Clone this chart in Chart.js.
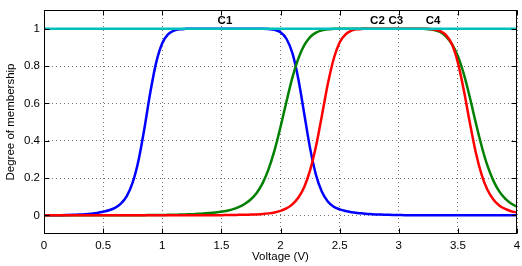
<!DOCTYPE html>
<html>

<head>
    <title>Membership functions</title>
    <script src="https://cdn.jsdelivr.net/npm/chart.js"></script>
</head>

<body style="margin:0;background:#fff;">
    <div style="width:522px;height:266px;">
        <canvas id="mfChart" width="522" height="266"></canvas>
    </div>

    <script>
        // sample points on the voltage axis (V)
        var voltage = [
            0, 0.05, 0.1, 0.15, 0.2, 0.25, 0.3, 0.35, 0.4, 0.45,
            0.5, 0.55, 0.6, 0.65, 0.7, 0.75, 0.8, 0.85, 0.9, 0.95,
            1, 1.05, 1.1, 1.15, 1.2, 1.25, 1.3, 1.35, 1.4, 1.45,
            1.5, 1.55, 1.6, 1.65, 1.7, 1.75, 1.8, 1.85, 1.9, 1.95,
            2, 2.05, 2.1, 2.15, 2.2, 2.25, 2.3, 2.35, 2.4, 2.45,
            2.5, 2.55, 2.6, 2.65, 2.7, 2.75, 2.8, 2.85, 2.9, 2.95,
            3, 3.05, 3.1, 3.15, 3.2, 3.25, 3.3, 3.35, 3.4, 3.45,
            3.5, 3.55, 3.6, 3.65, 3.7, 3.75, 3.8, 3.85, 3.9, 3.95,
            4
        ];

        // degree of membership
        var c1 = [
            0, 0, 0.001, 0.001, 0.002, 0.003, 0.004, 0.006, 0.009, 0.013,
            0.019, 0.027, 0.04, 0.063, 0.103, 0.176, 0.297, 0.469, 0.662, 0.822,
            0.922, 0.971, 0.99, 0.997, 0.999, 1, 1, 1, 1, 1,
            1, 1, 1, 1, 1, 1, 1, 1, 0.998, 0.994,
            0.981, 0.946, 0.87, 0.733, 0.547, 0.36, 0.217, 0.126, 0.074, 0.046,
            0.032, 0.023, 0.017, 0.013, 0.01, 0.007, 0.005, 0.004, 0.003, 0.002,
            0.002, 0.001, 0.001, 0.001, 0.001, 0.001, 0.001, 0, 0, 0,
            0, 0, 0, 0, 0, 0, 0, 0, 0, 0,
            0
        ];
        var c2 = [
            0, 0, 0, 0, 0, 0, 0, 0, 0, 0,
            0, 0.001, 0.001, 0.001, 0.001, 0.001, 0.001, 0.001, 0.0015, 0.0015,
            0.002, 0.0025, 0.003, 0.004, 0.005, 0.006, 0.008, 0.01, 0.012, 0.015,
            0.019, 0.025, 0.033, 0.045, 0.062, 0.086, 0.121, 0.174, 0.249, 0.349,
            0.473, 0.608, 0.736, 0.838, 0.91, 0.955, 0.979, 0.991, 0.997, 0.999,
            1, 1, 1, 1, 1, 1, 1, 1, 1, 1,
            1, 1, 1, 1, 0.999, 0.997, 0.993, 0.982, 0.958, 0.917,
            0.853, 0.758, 0.635, 0.5, 0.373, 0.266, 0.186, 0.128, 0.089, 0.063,
            0.046
        ];
        var c3 = [
            0, 0, 0, 0, 0, 0, 0, 0, 0, 0,
            0, 0, 0, 0, 0, 0, 0, 0, 0, 0,
            0, 0, 0, 0, 0, 0, 0.001, 0.001, 0.001, 0.001,
            0.001, 0.0015, 0.002, 0.0025, 0.003, 0.004, 0.005, 0.007, 0.0105, 0.0157,
            0.024, 0.037, 0.059, 0.094, 0.151, 0.241, 0.37, 0.534, 0.703, 0.839,
            0.926, 0.97, 0.99, 0.997, 0.999, 1, 1, 1, 1, 1,
            1, 1, 1, 1, 1, 0.999, 0.996, 0.987, 0.965, 0.916,
            0.818, 0.671, 0.5, 0.341, 0.22, 0.137, 0.085, 0.053, 0.034, 0.022,
            0.015
        ];
        // C4 stays at full membership over the whole range
        var c4Voltage = [0, 4];
        var c4 = [1, 1];

        var xTicks = [0, 0.5, 1, 1.5, 2, 2.5, 3, 3.5, 4];
        var yTicks = [0, 0.2, 0.4, 0.6, 0.8, 1];

        // curve names written above the top of each curve
        var labelNames = ['C1', 'C2', 'C3', 'C4'];
        var labelVoltage = [1.53, 2.82, 2.975, 3.29];
        var labelLevel = 1.043;

        var fontFamily = '"Liberation Sans", Arial, Helvetica, sans-serif';

        function toPoints(xs, ys) {
            return xs.map(function (x, i) {
                return { x: x, y: ys[i] };
            });
        }

        function lineSet(label, xs, ys, color, order) {
            return {
                label: label,
                data: toPoints(xs, ys),
                borderColor: color,
                backgroundColor: color,
                borderWidth: 2.5,
                pointRadius: 0,
                fill: false,
                cubicInterpolationMode: 'monotone',
                order: order
            };
        }

        // box, inward ticks and C-labels (MATLAB look)
        var axesFrame = {
            id: 'axesFrame',
            afterDatasetsDraw: function (chart) {
                var ctx = chart.ctx;
                var area = chart.chartArea;
                var xs = chart.scales.x;
                var ys = chart.scales.y;
                var l = Math.round(area.left) + 0.5;
                var r = Math.round(area.right) - 0.5;
                var t = Math.round(area.top) + 0.5;
                var b = Math.round(area.bottom) - 0.5;
                ctx.save();
                ctx.strokeStyle = '#000';
                ctx.lineWidth = 1;
                ctx.beginPath();
                xTicks.forEach(function (v) {
                    var px = Math.round(xs.getPixelForValue(v)) + 0.5;
                    ctx.moveTo(px, b); ctx.lineTo(px, b - 5);
                    ctx.moveTo(px, t); ctx.lineTo(px, t + 5);
                });
                yTicks.forEach(function (v) {
                    var py = Math.round(ys.getPixelForValue(v)) + 0.5;
                    ctx.moveTo(l, py); ctx.lineTo(l + 5, py);
                    ctx.moveTo(r, py); ctx.lineTo(r - 5, py);
                });
                ctx.stroke();
                ctx.strokeRect(l, t, r - l, b - t);

                ctx.fillStyle = '#000';
                ctx.font = 'bold 11.5px ' + fontFamily;
                ctx.textAlign = 'center';
                ctx.textBaseline = 'middle';
                labelNames.forEach(function (name, i) {
                    ctx.fillText(name, xs.getPixelForValue(labelVoltage[i]), ys.getPixelForValue(labelLevel));
                });
                ctx.restore();
            }
        };

        document.addEventListener('DOMContentLoaded', function () {
            var ctx = document.getElementById('mfChart').getContext('2d');
            var tickFont = { family: fontFamily, size: 11.5 };

            new Chart(ctx, {
                type: 'line',
                data: {
                    datasets: [
                        lineSet('C4', c4Voltage, c4, 'rgb(0, 191, 191)', 0),
                        lineSet('C3', voltage, c3, 'rgb(255, 0, 0)', 1),
                        lineSet('C2', voltage, c2, 'rgb(0, 128, 0)', 2),
                        lineSet('C1', voltage, c1, 'rgb(0, 0, 255)', 3)
                    ]
                },
                options: {
                    responsive: false,
                    animation: false,
                    devicePixelRatio: 1,
                    layout: { padding: { top: 10, right: 5, left: 0, bottom: 0 } },
                    plugins: {
                        legend: { display: false },
                        tooltip: { enabled: false }
                    },
                    scales: {
                        x: {
                            type: 'linear',
                            min: 0,
                            max: 4,
                            afterBuildTicks: function (scale) {
                                scale.ticks = xTicks.map(function (v) { return { value: v }; });
                            },
                            afterFit: function (scale) {
                                scale.height = 32;
                                scale.paddingLeft = 0;
                                scale.paddingRight = 0;
                            },
                            ticks: {
                                font: tickFont,
                                color: '#000',
                                padding: 5,
                                maxRotation: 0,
                                autoSkip: false,
                                callback: function (v) { return String(v); }
                            },
                            grid: { color: 'rgba(0,0,0,0.55)', drawTicks: false },
                            border: { display: false, dash: [1, 3] },
                            title: {
                                display: true,
                                text: 'Voltage (V)',
                                font: tickFont,
                                color: '#000',
                                padding: { top: 0, bottom: 2 }
                            }
                        },
                        y: {
                            type: 'linear',
                            min: -0.1,
                            max: 1.1,
                            afterBuildTicks: function (scale) {
                                scale.ticks = yTicks.map(function (v) { return { value: v }; });
                            },
                            afterFit: function (scale) {
                                scale.width = 44;
                                scale.paddingTop = 0;
                                scale.paddingBottom = 0;
                            },
                            ticks: {
                                font: tickFont,
                                color: '#000',
                                padding: 4,
                                callback: function (v) { return String(v); }
                            },
                            grid: { color: 'rgba(0,0,0,0.55)', drawTicks: false },
                            border: { display: false, dash: [1, 3] },
                            title: {
                                display: true,
                                text: 'Degree of membership',
                                font: tickFont,
                                color: '#000',
                                padding: { top: 4, bottom: 0 }
                            }
                        }
                    }
                },
                plugins: [axesFrame]
            });
        });
    </script>

</body>

</html>
